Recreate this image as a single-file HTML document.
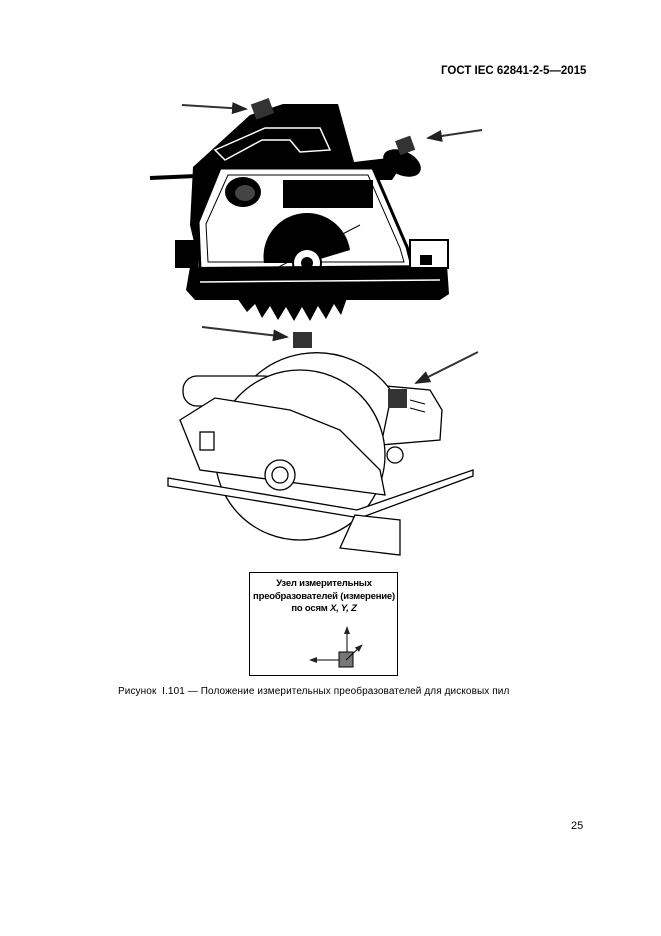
<!DOCTYPE html>
<html><head><meta charset="utf-8"><style>
html,body{margin:0;padding:0;background:#fff;}
body{width:661px;height:936px;position:relative;overflow:hidden;font-family:"Liberation Sans",sans-serif;}
.t{position:absolute;white-space:nowrap;color:#000;}
</style></head><body>
<div class="t" style="left:441px;top:65px;font-size:11.5px;font-weight:bold;">ГОСТ IEC 62841-2-5—2015</div>
<svg width="661" height="936" style="position:absolute;left:0;top:0" xmlns="http://www.w3.org/2000/svg">
<defs><marker id="ah" markerWidth="8" markerHeight="6" refX="7" refY="3" orient="auto"><path d="M0,0 L8,3 L0,6 z" fill="#222"/></marker></defs>
<!-- TOP SAW -->
<line x1="150" y1="178" x2="196" y2="176" stroke="#000" stroke-width="4"/>
<path d="M193,167 L250,115 L283,104 L338,104 L354,162 L388,158 L400,168 L392,180 L360,180 L378,215 L408,245 L415,268 L200,268 L190,225 Z" fill="#000"/>
<path d="M215,150 L265,128 L320,128 L330,150 L300,152 L290,140 L262,140 L225,160 Z" fill="none" stroke="#fff" stroke-width="1.5"/>
<ellipse cx="402" cy="163" rx="20" ry="12" transform="rotate(25 402 163)" fill="#000"/>
<path d="M220,168 L373,168 L407,247 L413,270 L200,270 L198,222 Z" fill="#fff" stroke="#000" stroke-width="3"/>
<path d="M228,175 L368,175 L400,248 L404,262 L208,262 L206,224 Z" fill="none" stroke="#000" stroke-width="1"/>
<rect x="283" y="180" width="90" height="28" fill="#000"/>
<ellipse cx="243" cy="192" rx="18" ry="15" fill="#000"/>
<ellipse cx="245" cy="193" rx="10" ry="8" fill="#444"/>
<path d="M264,263 A43,43 0 0 1 350,250 L307,263 Z" fill="#000"/>
<line x1="230" y1="292" x2="360" y2="225" stroke="#000" stroke-width="1"/>
<circle cx="307" cy="263" r="14" fill="#fff" stroke="#000" stroke-width="2"/>
<circle cx="307" cy="263" r="6" fill="#000"/>
<path d="M237,298 L247,312 L255,304 L262,318 L270,306 L278,320 L286,307 L294,321 L302,307 L310,321 L318,306 L326,319 L334,304 L341,315 L347,298 Z" fill="#000"/>
<rect x="175" y="240" width="23" height="28" fill="#000"/>
<path d="M190,267 L447,265 L449,294 L440,300 L195,300 L186,290 Z" fill="#000"/>
<line x1="200" y1="282" x2="440" y2="280" stroke="#fff" stroke-width="1.5"/>
<rect x="410" y="240" width="38" height="28" fill="#fff" stroke="#000" stroke-width="2"/>
<rect x="420" y="255" width="12" height="10" fill="#000"/>
<rect x="253" y="101" width="19" height="16" fill="#333" transform="rotate(-20 262 109)"/>
<rect x="397" y="138" width="16" height="15" fill="#333" transform="rotate(-20 405 145)"/>
<line x1="182" y1="105" x2="246" y2="109" stroke="#333" stroke-width="2" marker-end="url(#ah)"/>
<line x1="482" y1="130" x2="428" y2="138" stroke="#333" stroke-width="2" marker-end="url(#ah)"/>
<!-- BOTTOM SAW -->
<g fill="#fff" stroke="#000" stroke-width="1.3">
<path d="M375,385 L430,390 L442,410 L440,440 L380,445 Z"/>
<path d="M228,420 A92,92 0 0 1 392,392 L380,450 L250,450 Z"/>
<rect x="183" y="376" width="95" height="30" rx="14"/>
<circle cx="300" cy="455" r="85"/>
<path d="M180,420 L215,398 L290,410 L340,430 L380,470 L385,495 L200,470 Z"/>
<path d="M168,478 L357,510 L473,470 L473,476 L360,518 L168,486 Z"/>
<path d="M355,515 L400,520 L400,555 L340,548 Z"/>
<circle cx="280" cy="475" r="15"/>
<circle cx="280" cy="475" r="8"/>
<circle cx="395" cy="455" r="8"/>
<rect x="200" y="432" width="14" height="18"/>
</g>
<line x1="410" y1="400" x2="425" y2="404" stroke="#000"/>
<line x1="410" y1="408" x2="425" y2="412" stroke="#000"/>
<rect x="293" y="332" width="19" height="16" fill="#333"/>
<rect x="388" y="389" width="19" height="19" fill="#333"/>
<line x1="202" y1="327" x2="287" y2="337" stroke="#333" stroke-width="2" marker-end="url(#ah)"/>
<line x1="478" y1="352" x2="416" y2="383" stroke="#333" stroke-width="2" marker-end="url(#ah)"/>
<!-- legend -->
<rect x="249.5" y="572.5" width="148" height="103" fill="none" stroke="#000" stroke-width="1"/>
<line x1="347" y1="653" x2="347" y2="627" stroke="#000" stroke-width="1" marker-end="url(#ah)"/>
<line x1="339" y1="660" x2="310" y2="660" stroke="#000" stroke-width="1" marker-end="url(#ah)"/>
<rect x="339" y="652" width="14" height="15" fill="#777" stroke="#000"/>
<line x1="346" y1="660" x2="362" y2="645" stroke="#000" stroke-width="1" marker-end="url(#ah)"/>
</svg>
<div class="t" style="left:249px;top:578px;width:150px;text-align:center;font-size:9.5px;font-weight:bold;line-height:12.5px;letter-spacing:-0.2px;">Узел измерительных<br>преобразователей (измерение)<br>по осям <i>X, Y, Z</i></div>
<div class="t" style="left:118px;top:686px;font-size:10px;letter-spacing:0.1px;">Рисунок&nbsp; I.101 — Положение измерительных преобразователей для дисковых пил</div>
<div class="t" style="left:571px;top:820px;font-size:11px;">25</div>
</body></html>
